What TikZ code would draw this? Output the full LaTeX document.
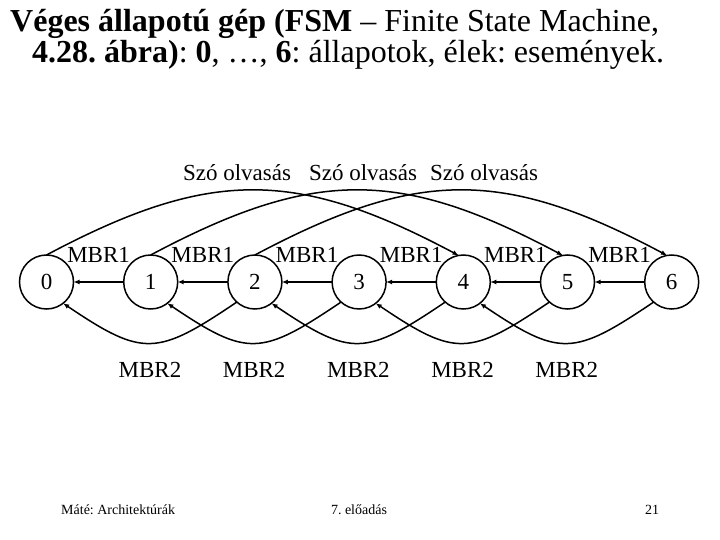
\documentclass[tikz,border=0pt]{standalone}
\usepackage{fontspec}
\setmainfont{Liberation Serif}
\usetikzlibrary{positioning,arrows.meta}
\frenchspacing
\tikzset{
    fsmstate/.style={draw, circle, line width=1.5pt, minimum size=54pt, inner sep=0pt, outer sep=0pt, font=\fontsize{23}{26}\selectfont},
    fsmarrow/.style={draw, line width=1.5pt, -{Latex[length=6pt, width=5pt]}},
    fsmlabel/.style={inner sep=0pt, font=\fontsize{23}{26}\selectfont},
    fsmtitle/.style={inner sep=0pt, anchor=base west, font=\fontsize{32}{36}\selectfont},
    fsmfoot/.style={inner sep=0pt, font=\fontsize{14}{16}\selectfont}
}

\begin{document}
\begin{tikzpicture}[x=1pt, y=-1pt, node distance=50.2pt]
    \useasboundingbox (0,0) rectangle (720,540);
    \node[fsmtitle] (title1) at (10,32) {\textbf{Véges állapotú gép (FSM} – Finite State Machine,};
    \node[fsmtitle] (title2) at (32,63) {\textbf{4.28. ábra)}: \textbf{0}, …, \textbf{6}: állapotok, élek: események.};

    \node[fsmstate] (s0) at (46.5,282) {0};
    \node[fsmstate, right=of s0] (s1) {1};
    \node[fsmstate, right=of s1] (s2) {2};
    \node[fsmstate, right=of s2] (s3) {3};
    \node[fsmstate, right=of s3] (s4) {4};
    \node[fsmstate, right=of s4] (s5) {5};
    \node[fsmstate, right=of s5] (s6) {6};

    \node[fsmlabel] (read1) at (237,173) {Szó olvasás};
    \node[fsmlabel] (read2) at (363,173) {Szó olvasás};
    \node[fsmlabel] (read3) at (484,173) {Szó olvasás};

    \draw[fsmarrow] (s1) -- node[fsmlabel, midway, yshift=27pt] (mbr1a) {MBR1} (s0);
    \draw[fsmarrow] (s2) -- node[fsmlabel, midway, yshift=27pt] (mbr1b) {MBR1} (s1);
    \draw[fsmarrow] (s3) -- node[fsmlabel, midway, yshift=27pt] (mbr1c) {MBR1} (s2);
    \draw[fsmarrow] (s4) -- node[fsmlabel, midway, yshift=27pt] (mbr1d) {MBR1} (s3);
    \draw[fsmarrow] (s5) -- node[fsmlabel, midway, yshift=27pt] (mbr1e) {MBR1} (s4);
    \draw[fsmarrow] (s6) -- node[fsmlabel, midway, yshift=27pt] (mbr1f) {MBR1} (s5);

    \draw[fsmarrow] (s0.north) to[out=28, in=152, looseness=1.15] (s4.100);
    \draw[fsmarrow] (s1.north) to[out=28, in=152, looseness=1.15] (s5.100);
    \draw[fsmarrow] (s2.north) to[out=28, in=152, looseness=1.15] (s6.100);

    \draw[fsmarrow] (s2.-132) to[out=-146, in=-34, looseness=1.42] node[fsmlabel, pos=0.5, yshift=-27pt] (mbr2a) {MBR2} (s0.-52);
    \draw[fsmarrow] (s3.-132) to[out=-146, in=-34, looseness=1.42] node[fsmlabel, pos=0.5, yshift=-27pt] (mbr2b) {MBR2} (s1.-52);
    \draw[fsmarrow] (s4.-132) to[out=-146, in=-34, looseness=1.42] node[fsmlabel, pos=0.5, yshift=-27pt] (mbr2c) {MBR2} (s2.-52);
    \draw[fsmarrow] (s5.-132) to[out=-146, in=-34, looseness=1.42] node[fsmlabel, pos=0.5, yshift=-27pt] (mbr2d) {MBR2} (s3.-52);
    \draw[fsmarrow] (s6.-132) to[out=-146, in=-34, looseness=1.42] node[fsmlabel, pos=0.5, yshift=-27pt] (mbr2e) {MBR2} (s4.-52);

    \node[fsmfoot, anchor=west] (foot1) at (61,510) {Máté: Architektúrák};
    \node[fsmfoot] (foot2) at (359,510) {7. előadás};
    \node[fsmfoot] (foot3) at (652,510) {21};
\end{tikzpicture}
\end{document}
